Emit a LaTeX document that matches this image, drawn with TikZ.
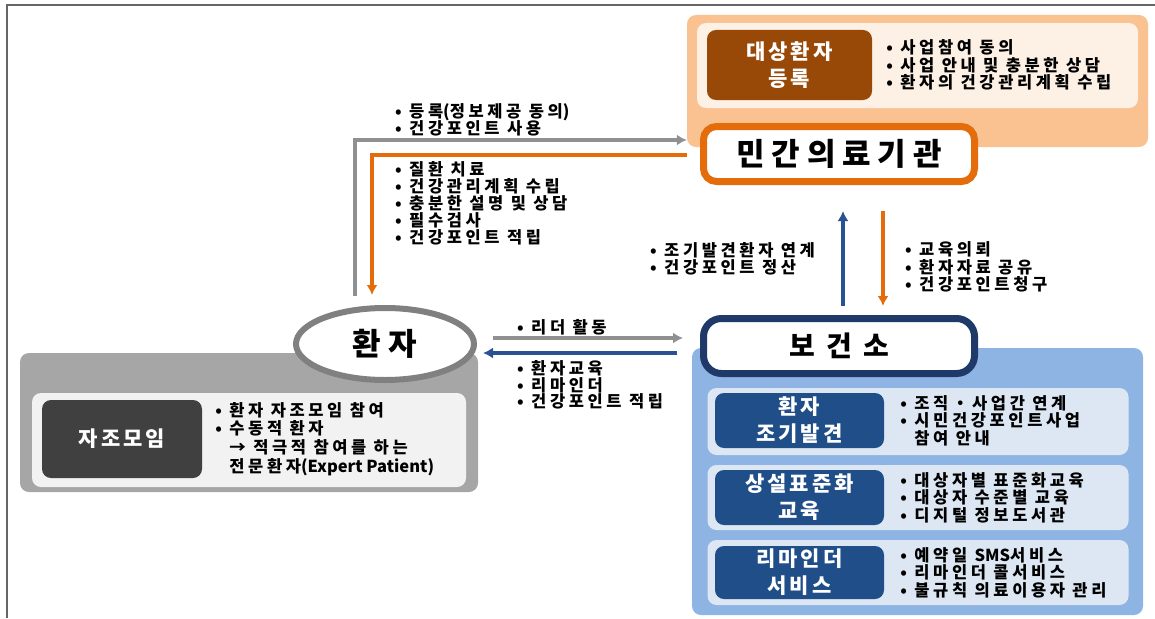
\documentclass[tikz,border=0pt]{standalone}
\usepackage{fontspec}
\setmainfont{Noto Sans CJK KR}[LetterSpace=22]
\usepackage{tikz}
\usetikzlibrary{arrows.meta,positioning,shapes.geometric}
\definecolor{orpanel}{HTML}{FAC191}
\definecolor{orinner}{HTML}{FDF0E4}
\definecolor{brown}{HTML}{984807}
\definecolor{orline}{HTML}{E46C0A}
\definecolor{grline}{HTML}{909090}
\definecolor{grpanel}{HTML}{A6A6A6}
\definecolor{grinner}{HTML}{F2F2F2}
\definecolor{grtag}{HTML}{404040}
\definecolor{grring}{HTML}{808080}
\definecolor{blpanel}{HTML}{8EB4E3}
\definecolor{blinner}{HTML}{DDE7F3}
\definecolor{bltag}{HTML}{1F4E89}
\definecolor{blring}{HTML}{1F3A68}
\definecolor{blline}{HTML}{2A5193}
\definecolor{frame}{HTML}{666666}
\newcommand\latn[1]{{\addfontfeature{LetterSpace=0}#1}}
\begin{document}
\begin{tikzpicture}[x=1pt,y=-1pt,
  font=\bfseries\fontsize{16.5}{17.5}\selectfont,
  panel/.style={rounded corners=9pt,inner sep=0pt},
  tag/.style={rounded corners=9pt,inner sep=0pt,align=center,text=white,font=\bfseries\fontsize{21}{27}\selectfont\addfontfeature{LetterSpace=14}},
  note/.style={inner sep=0pt,align=left,anchor=west},
  hub/.style={draw,fill=white,line width=7pt,inner sep=0pt,font=\bfseries\fontsize{31}{34}\selectfont},
  link/.style={line width=4pt,-{Latex[length=10pt,width=11pt]}}]
\useasboundingbox (0,0) rectangle (1155,618);
\draw[frame,line width=2pt] (7,618) |- (1155,5);
% 민간의료기관 side
\node[panel,fill=orpanel,minimum width=461pt,minimum height=132pt] (orp) at (917.5,81) {};
\node[panel,fill=orinner,minimum width=441pt,minimum height=85pt] (ori) at (917.5,65.5) {};
\node[tag,fill=brown,minimum width=165pt,minimum height=70pt] (reg) at (789.5,65) {대상환자\\등록};
\node[note,right=14pt of reg] (regnote) {• 사업참여 동의\\• 사업 안내 및 충분한 상담\\• 환자의 건강관리계획 수립};
\node[hub,draw=orline,rounded corners=13pt,minimum width=271pt,minimum height=55pt] (clin) at (839,154) {\addfontfeature{LetterSpace=22}민간의료기관};
% 환자 side
\node[panel,fill=grpanel,minimum width=458pt,minimum height=139pt] (selfp) at (249,422.5) {};
\node[panel,fill=grinner,minimum width=434pt,minimum height=94pt] (selfi) at (249,440) {};
\node[tag,fill=grtag,minimum width=160pt,minimum height=78pt] (selfg) at (122,439) {자조모임};
\node[note,right=13pt of selfg,font=\bfseries\fontsize{16.5}{18.7}\selectfont] (selfnote) {• 환자 자조모임 참여\\• 수동적 환자\\\phantom{• }→ 적극적 참여를 하는\\\phantom{• }전문환자\latn{(Expert Patient)}};
\node[hub,draw=grring,ellipse,line width=6pt,minimum width=178pt,minimum height=72pt] (pat) at (385,344) {\addfontfeature{LetterSpace=24}환자};
% 보건소 side
\node[panel,fill=blpanel,minimum width=451pt,minimum height=267pt] (bop) at (917.5,481.5) {};
\node[hub,draw=blring,rounded corners=18pt,minimum width=271pt,minimum height=55pt,font=\bfseries\fontsize{28}{32}\selectfont] (phc) at (839,346) {\addfontfeature{LetterSpace=40}보건소};
\node[panel,fill=blinner,minimum width=421pt,minimum height=67pt] (row1) at (918,421.5) {};
\node[panel,fill=blinner,minimum width=421pt,minimum height=65pt] (row2) at (918,497.5) {};
\node[panel,fill=blinner,minimum width=421pt,minimum height=65pt] (row3) at (918,572.5) {};
\node[tag,fill=bltag,minimum width=169pt,minimum height=55pt] (tag1) at (799.5,420.5) {환자\\조기발견};
\node[tag,fill=bltag,minimum width=169pt,minimum height=55pt] (tag2) at (799.5,497.5) {상설표준화\\교육};
\node[tag,fill=bltag,minimum width=169pt,minimum height=53pt] (tag3) at (799.5,572.5) {리마인더\\서비스};
\node[note,right=16pt of tag1] (note1) {• 조직・사업간 연계\\• 시민건강포인트사업\\\phantom{• }참여 안내};
\node[note,right=16pt of tag2] (note2) {• 대상자별 표준화교육\\• 대상자 수준별 교육\\• 디지털 정보도서관};
\node[note,right=16pt of tag3] (note3) {• 예약일 \latn{SMS}서비스\\• 리마인더 콜서비스\\• 불규칙 의료이용자 관리};
% connectors
\draw[link,grline] ([xshift=-30pt,yshift=9pt]pat.north) |- (orp.west |- 0,140);
\draw[link,orline] (orp.west |- 0,155) -| ([xshift=-13pt,yshift=10pt]pat.north);
\draw[link,blline] ([xshift=4pt,yshift=9pt]phc.north) -- ([xshift=4pt,yshift=-26pt]clin.south);
\draw[link,orline] ([xshift=44pt,yshift=-26pt]clin.south) -- ([xshift=44pt,yshift=9pt]phc.north);
\draw[link,grline] ([xshift=16pt,yshift=6pt]pat.east) -- ([xshift=-17pt,yshift=8pt]phc.west);
\draw[link,blline] ([xshift=-23pt,yshift=-7pt]phc.west) -- ([xshift=6pt,yshift=-9pt]pat.east);
% labels
\node[note] (labA) at (395,120) {• 등록\latn{(}정보제공 동의\latn{)}\\• 건강포인트 사용};
\node[note,font=\bfseries\fontsize{16.5}{17}\selectfont] (labB) at (395,203) {• 질환 치료\\• 건강관리계획 수립\\• 충분한 설명 및 상담\\• 필수검사\\• 건강포인트 적립};
\node[note] (labC) at (650,259) {• 조기발견환자 연계\\• 건강포인트 정산};
\node[note] (labD) at (905,267) {• 교육의뢰\\• 환자자료 공유\\• 건강포인트청구};
\node[note] (labE) at (517,327) {• 리더 활동};
\node[note,font=\bfseries\fontsize{16.5}{16.5}\selectfont] (labF) at (517,385) {• 환자교육\\• 리마인더\\• 건강포인트 적립};
\end{tikzpicture}
\end{document}
